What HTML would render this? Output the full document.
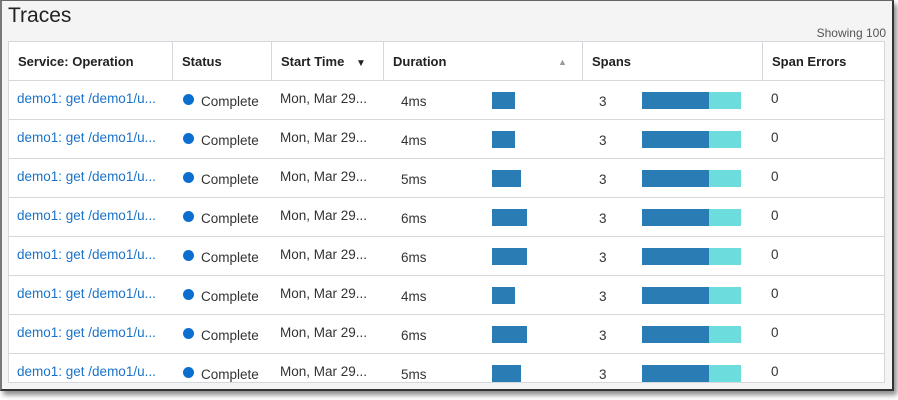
<!DOCTYPE html>
<html><head><style>
body{margin:0;width:898px;height:400px;background:#fff;font-family:"Liberation Sans",sans-serif;position:relative;overflow:hidden}
.frame{position:absolute;left:0;top:0;width:890px;height:388px;border:2px solid #333;border-left:2px solid #777;border-top:1px solid #666;background:#f4f4f4;box-shadow:3px 4px 5px rgba(0,0,0,.45);overflow:hidden}
.title{position:absolute;left:6px;top:3px;font-size:21px;color:#222}
.show{position:absolute;right:6px;top:25px;font-size:12px;color:#555}
.tbl{position:absolute;left:6px;top:40px;width:875px;height:340px;border:1px solid #d4d8dc;background:#fff;overflow:hidden}
.hdr{position:absolute;left:0;top:0;width:875px;height:38px;border-bottom:1px solid #d4d8dc}
.h{position:absolute;top:0;height:38px;line-height:40px;font-size:13px;font-weight:bold;color:#222;padding-left:9px;box-sizing:border-box;border-right:1px solid #d4d8dc}
.row{position:absolute;left:0;width:875px;height:38px;border-bottom:1px solid #d4d8dc}
.c{position:absolute;top:12px;font-size:13.5px;color:#333}
.a{color:#1a73c8}
.dot{position:absolute;left:174px;top:13px;width:11px;height:11px;border-radius:50%;background:#0c6fd0}
.db{position:absolute;left:483px;top:11px;height:17px;background:#2a7db4}
.s1{position:absolute;left:633px;top:11px;width:67px;height:17px;background:#2a7db4}
.s2{position:absolute;left:700px;top:11px;width:32px;height:17px;background:#6cdcdc}
</style></head><body>
<div class="frame">
<div class="title">Traces</div>
<div class="show">Showing 100</div>
<div class="tbl">
<div class="hdr">
<div class="h" style="left:0;width:164px">Service: Operation</div>
<div class="h" style="left:164px;width:99px">Status</div>
<div class="h" style="left:263px;width:112px">Start Time <span style="font-size:10px;margin-left:8px">▼</span></div>
<div class="h" style="left:375px;width:199px">Duration<span style="position:absolute;left:174px;font-size:9px;color:#999">▲</span></div>
<div class="h" style="left:574px;width:180px">Spans</div>
<div class="h" style="left:754px;width:121px;border-right:none">Span Errors</div>
</div>
<div id="rows"></div>
</div>
</div>
<script>
var d=[4,4,5,6,6,4,6,5],w={4:23,5:29,6:35},h='';
d.forEach(function(v,i){h+='<div class="row" style="top:'+(39+i*39)+'px"><span class="c a" style="left:8px;top:10px">demo1: get /demo1/u...</span><span class="dot"></span><span class="c" style="left:192px;top:13px">Complete</span><span class="c" style="left:271px;top:10px">Mon, Mar 29...</span><span class="c" style="left:392px;top:13px">'+v+'ms</span><span class="db" style="width:'+w[v]+'px"></span><span class="c" style="left:590px;top:13px">3</span><span class="s1"></span><span class="s2"></span><span class="c" style="left:762px;top:10px">0</span></div>'});
document.getElementById('rows').innerHTML=h;
</script>
</body></html>
